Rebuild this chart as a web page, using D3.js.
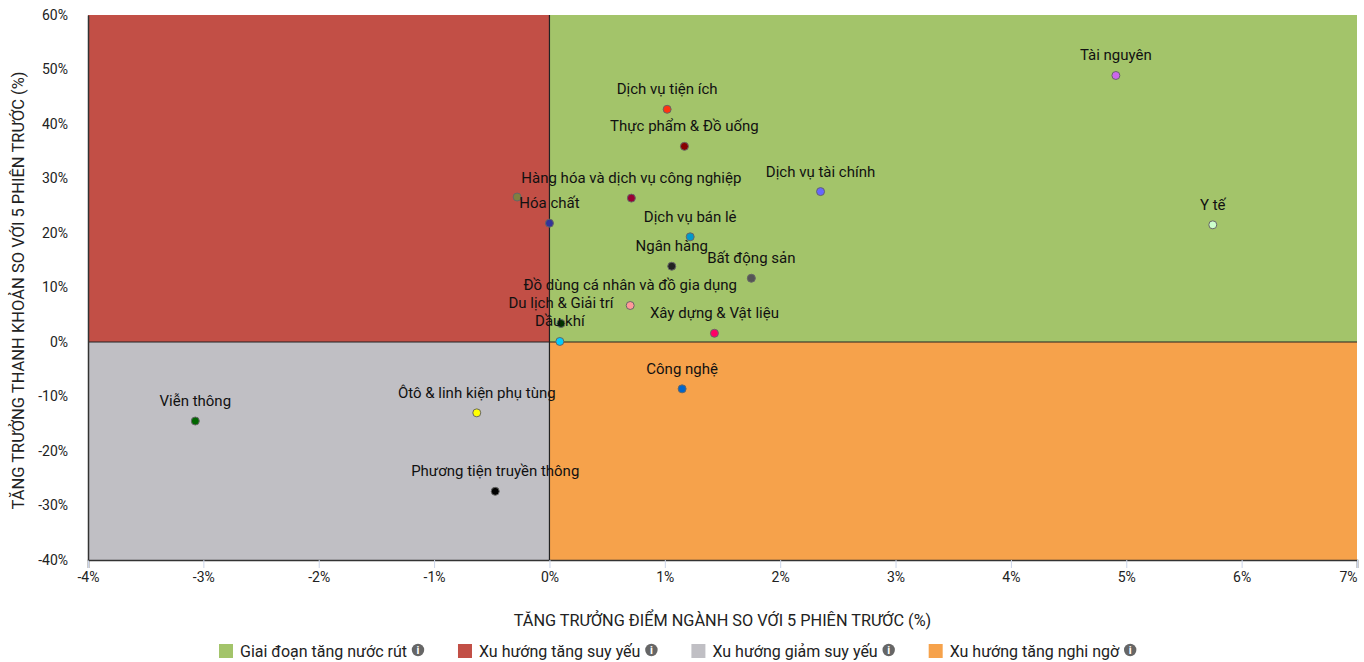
<!DOCTYPE html>
<html>
<head>
<meta charset="utf-8">
<script src="https://cdn.jsdelivr.net/npm/d3@7"></script>
<style>
  body { margin: 0; background: #fff; }
  text { font-family: Roboto, "Noto Sans", sans-serif; }
</style>
</head>
<body>
<div class="chart"></div>
<script>
// sector data
const sectors = [
  'Tài nguyên', 'Y tế', 'Dịch vụ tiện ích', 'Thực phẩm & Đồ uống', 'Dịch vụ tài chính',
  'Hàng hóa và dịch vụ công nghiệp', 'Hóa chất', 'Dịch vụ bán lẻ', 'Ngân hàng', 'Bất động sản',
  'Đồ dùng cá nhân và đồ gia dụng', 'Du lịch & Giải trí', 'Dầu khí', 'Xây dựng & Vật liệu',
  'Công nghệ', 'Viễn thông', 'Ôtô & linh kiện phụ tùng', 'Phương tiện truyền thông', 'Bảo hiểm'
];
const scoreGrowth = [4.91, 5.75, 1.02, 1.17, 2.35, 0.71, 0.0, 1.22, 1.06, 1.75, 0.70, 0.10, 0.09, 1.43, 1.15, -3.07, -0.63, -0.47, -0.28];
const liquidityGrowth = [48.9, 21.5, 42.7, 35.9, 27.6, 26.4, 21.8, 19.3, 13.9, 11.7, 6.7, 3.4, 0.1, 1.6, -8.6, -14.5, -13.0, -27.4, 26.6];
const dotColors = [
  '#cc66ee', '#ccffcc', '#ff3311', '#880000', '#6666ff',
  '#990033', '#333399', '#0099cc', '#222222', '#555555',
  '#ff9999', '#003300', '#00ccff', '#ff0066',
  '#0066cc', '#006600', '#ffff00', '#000000', '#808040'
];

const xTicks = [-4, -3, -2, -1, 0, 1, 2, 3, 4, 5, 6, 7];
const yTicks = [-40, -30, -20, -10, 0, 10, 20, 30, 40, 50, 60];

const quadrantNames = ['Giai đoạn tăng nước rút', 'Xu hướng tăng suy yếu', 'Xu hướng giảm suy yếu', 'Xu hướng tăng nghi ngờ'];
const quadrantColors = ['#a3c46a', '#c24f46', '#c0bfc4', '#f6a24b'];

const data = sectors.map((name, i) => ({
  name, x: scoreGrowth[i], y: liquidityGrowth[i], color: dotColors[i]
}));

const W = 1364, H = 662;
const margin = { top: 15, right: 7, bottom: 102, left: 88 };
const width = W - margin.left - margin.right;
const height = H - margin.top - margin.bottom;

const x = d3.scaleLinear().domain([-4, 7]).range([0, width]);
const y = d3.scaleLinear().domain([-40, 60]).range([height, 0]);

const svg = d3.select('.chart')
  .append('svg')
  .attr('width', W)
  .attr('height', H);

const g = svg.append('g')
  .attr('transform', `translate(${margin.left}, ${margin.top})`);

// quadrants: [x0, x1, y0, y1]
const quads = [
  [0, 7, 0, 60],
  [-4, 0, 0, 60],
  [-4, 0, -40, 0],
  [0, 7, -40, 0]
];
g.selectAll('.quad')
  .data(quads)
  .join('rect')
  .attr('x', d => x(d[0]))
  .attr('y', d => y(d[3]))
  .attr('width', d => x(d[1]) - x(d[0]))
  .attr('height', d => y(d[2]) - y(d[3]))
  .attr('fill', (d, i) => quadrantColors[i]);

// divider lines
g.append('line')
  .attr('x1', x(0)).attr('x2', x(0))
  .attr('y1', 0).attr('y2', height)
  .attr('stroke', '#222').attr('stroke-width', 1.2);
g.append('line')
  .attr('x1', 0).attr('x2', width)
  .attr('y1', y(0)).attr('y2', y(0))
  .attr('stroke', '#222').attr('stroke-width', 1.2);

// axes
const xAxis = d3.axisBottom(x)
  .tickValues(xTicks)
  .tickSize(8)
  .tickPadding(4)
  .tickFormat(d => d + '%');

const yAxis = d3.axisLeft(y)
  .tickValues(yTicks)
  .tickSize(0)
  .tickPadding(20)
  .tickFormat(d => d + '%');

const gx = g.append('g')
  .attr('transform', `translate(0, ${height})`)
  .call(xAxis);
gx.select('.domain').attr('stroke', '#333').attr('stroke-width', 1.5);
gx.selectAll('.tick line').attr('stroke', '#ccd6eb');
gx.selectAll('.tick text').attr('fill', '#222').style('font-size', '14px');
// last label pulled inside like the original
gx.selectAll('.tick text').filter(d => d === xTicks[xTicks.length - 1]).attr('text-anchor', 'end');

const gy = g.append('g').call(yAxis);
gy.select('.domain').attr('stroke', '#333').attr('stroke-width', 1.5);
gy.selectAll('.tick text').attr('fill', '#222').style('font-size', '14px');

// axis titles
svg.append('text')
  .attr('x', margin.left + width / 2)
  .attr('y', 626)
  .attr('text-anchor', 'middle')
  .attr('fill', '#222')
  .style('font-size', '16.3px')
  .text('TĂNG TRƯỞNG ĐIỂM NGÀNH SO VỚI 5 PHIÊN TRƯỚC (%)');

svg.append('text')
  .attr('transform', `translate(24, ${margin.top + height / 2 + 3}) rotate(-90)`)
  .attr('text-anchor', 'middle')
  .attr('fill', '#222')
  .style('font-size', '16.5px')
  .text('TĂNG TRƯỞNG THANH KHOẢN SO VỚI 5 PHIÊN TRƯỚC (%)');

// points
g.selectAll('.dot')
  .data(data)
  .join('circle')
  .attr('cx', d => x(d.x))
  .attr('cy', d => y(d.y))
  .attr('r', 4)
  .attr('fill', d => d.color)
  .attr('stroke', '#666')
  .attr('stroke-width', 1);

// labels, hide the ones that collide with an earlier label
const labels = g.selectAll('.lbl')
  .data(data)
  .join('text')
  .attr('x', d => x(d.x))
  .attr('y', d => y(d.y) - 15)
  .attr('text-anchor', 'middle')
  .attr('fill', '#111')
  .style('font-size', '15px')
  .text(d => d.name);

const kept = [];
labels.each(function () {
  const b = this.getBBox();
  const box = { x0: b.x + 4, x1: b.x + b.width - 4, y0: b.y + 4, y1: b.y + b.height - 4 };
  const hit = kept.some(k => box.x0 < k.x1 && box.x1 > k.x0 && box.y0 < k.y1 && box.y1 > k.y0);
  if (hit) d3.select(this).remove();
  else kept.push(box);
});

// legend
const legend = svg.append('g').attr('transform', 'translate(219, 651)');
let lx = 0;
quadrantNames.forEach((name, i) => {
  const item = legend.append('g').attr('transform', `translate(${lx}, 0)`);
  item.append('rect')
    .attr('x', 0).attr('y', -7)
    .attr('width', 14).attr('height', 14)
    .attr('fill', quadrantColors[i]);
  const t = item.append('text')
    .attr('x', 21).attr('y', 5.5)
    .attr('fill', '#222')
    .style('font-size', '16px')
    .text(name);
  const tw = t.node().getComputedTextLength();
  const cx = 21 + tw + 11;
  item.append('circle')
    .attr('cx', cx).attr('cy', -1).attr('r', 6.2)
    .attr('fill', '#666');
  item.append('text')
    .attr('x', cx).attr('y', 3.2)
    .attr('text-anchor', 'middle')
    .attr('fill', '#fff')
    .style('font-size', '11px')
    .style('font-weight', 'bold')
    .text('i');
  lx += cx + 6 + 34;
});
</script>
</body>
</html>
